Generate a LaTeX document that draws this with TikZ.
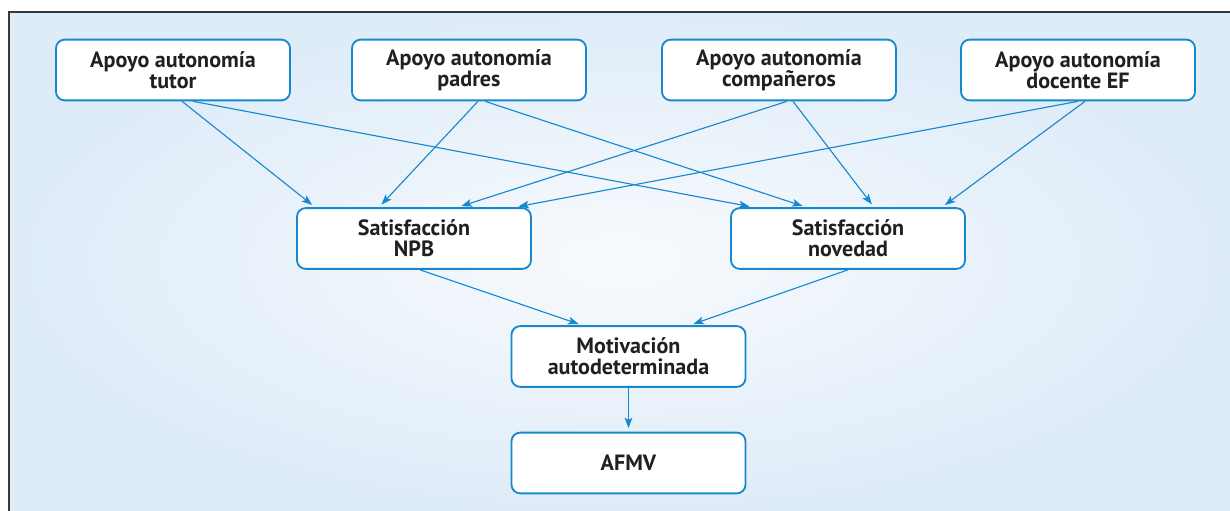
\documentclass[tikz,border=0pt]{standalone}
\usepackage{fontspec}
\setmainfont{PT Sans}
\usetikzlibrary{calc,arrows.meta}
\definecolor{boxblue}{RGB}{22,136,206}
\definecolor{inkdark}{RGB}{35,31,32}
\definecolor{bgblue}{RGB}{222,236,248}
\definecolor{bglight}{RGB}{248,250,253}
\tikzset{
	box/.style={draw=boxblue, line width=1.3pt, fill=white, rounded corners=0.22cm,
		minimum width=5.85cm, minimum height=1.52cm, align=center, inner sep=0pt,
		text=inkdark, font=\fontsize{15.7}{15}\selectfont\bfseries},
	link/.style={draw=boxblue, line width=0.8pt, shorten >=2.5pt,
		-{Stealth[length=7.5pt,width=5.5pt,inset=1.8pt]}}
}

\begin{document}
\begin{tikzpicture}[x=0.025cm, y=-0.025cm]
			%%%%% START %%%%%
			
			\useasboundingbox (0, 0) rectangle (1230, 511);
			\shade[inner color=bglight, outer color=bgblue] (9, 12) rectangle (1230, 511);
			\draw[line width=1.4pt, color=black!78] (9, 511) -- (9, 12) -- (1230, 12);
			
			% upper row
			\node[box] (tutor) at (173, 70) {Apoyo autonomía\\tutor};
			\node[box] (padres) at (469, 70) {Apoyo autonomía\\padres};
			\node[box] (companeros) at (779, 70) {Apoyo autonomía\\compañeros};
			\node[box] (docente) at (1078, 70) {Apoyo autonomía\\docente EF};
			
			% needs
			\node[box] (npb) at (414, 238.5) {Satisfacción\\NPB};
			\node[box] (novedad) at (848, 238.5) {Satisfacción\\novedad};
			
			\node[box] (motivacion) at (628.5, 356.5) {Motivación\\autodeterminada};
			\node[box] (afmv) at (628.5, 463) {AFMV};
			
			% support -> needs
			\draw[link] ($(tutor.south)+(9, 0)$) -- ($(npb.north)+(-99, 0)$);
			\draw[link] ($(tutor.south)+(20, 0)$) -- ($(novedad.north)+(-95, 0)$);
			\draw[link] ($(padres.south)+(9, 0)$) -- ($(npb.north)+(-35, 0)$);
			\draw[link] ($(padres.south)+(16, 0)$) -- ($(novedad.north)+(-42, 0)$);
			\draw[link] ($(companeros.south)+(8, 0)$) -- ($(npb.north)+(44, 0)$);
			\draw[link] ($(companeros.south)+(14, 0)$) -- ($(novedad.north)+(26, 0)$);
			\draw[link] ($(docente.south)+(0, 0)$) -- ($(npb.north)+(101, 0)$);
			\draw[link] ($(docente.south)+(7, 0)$) -- ($(novedad.north)+(94, 0)$);
			
			% needs -> motivation -> AFMV
			\draw[link] ($(npb.south)+(6, 0)$) -- ($(motivacion.north)+(-46.5, 0)$);
			\draw[link] (novedad.south) -- ($(motivacion.north)+(61.5, 0)$);
			\draw[link] (motivacion.south) -- (afmv.north);
			
			%%%%% END %%%%%
\end{tikzpicture}
\end{document}
